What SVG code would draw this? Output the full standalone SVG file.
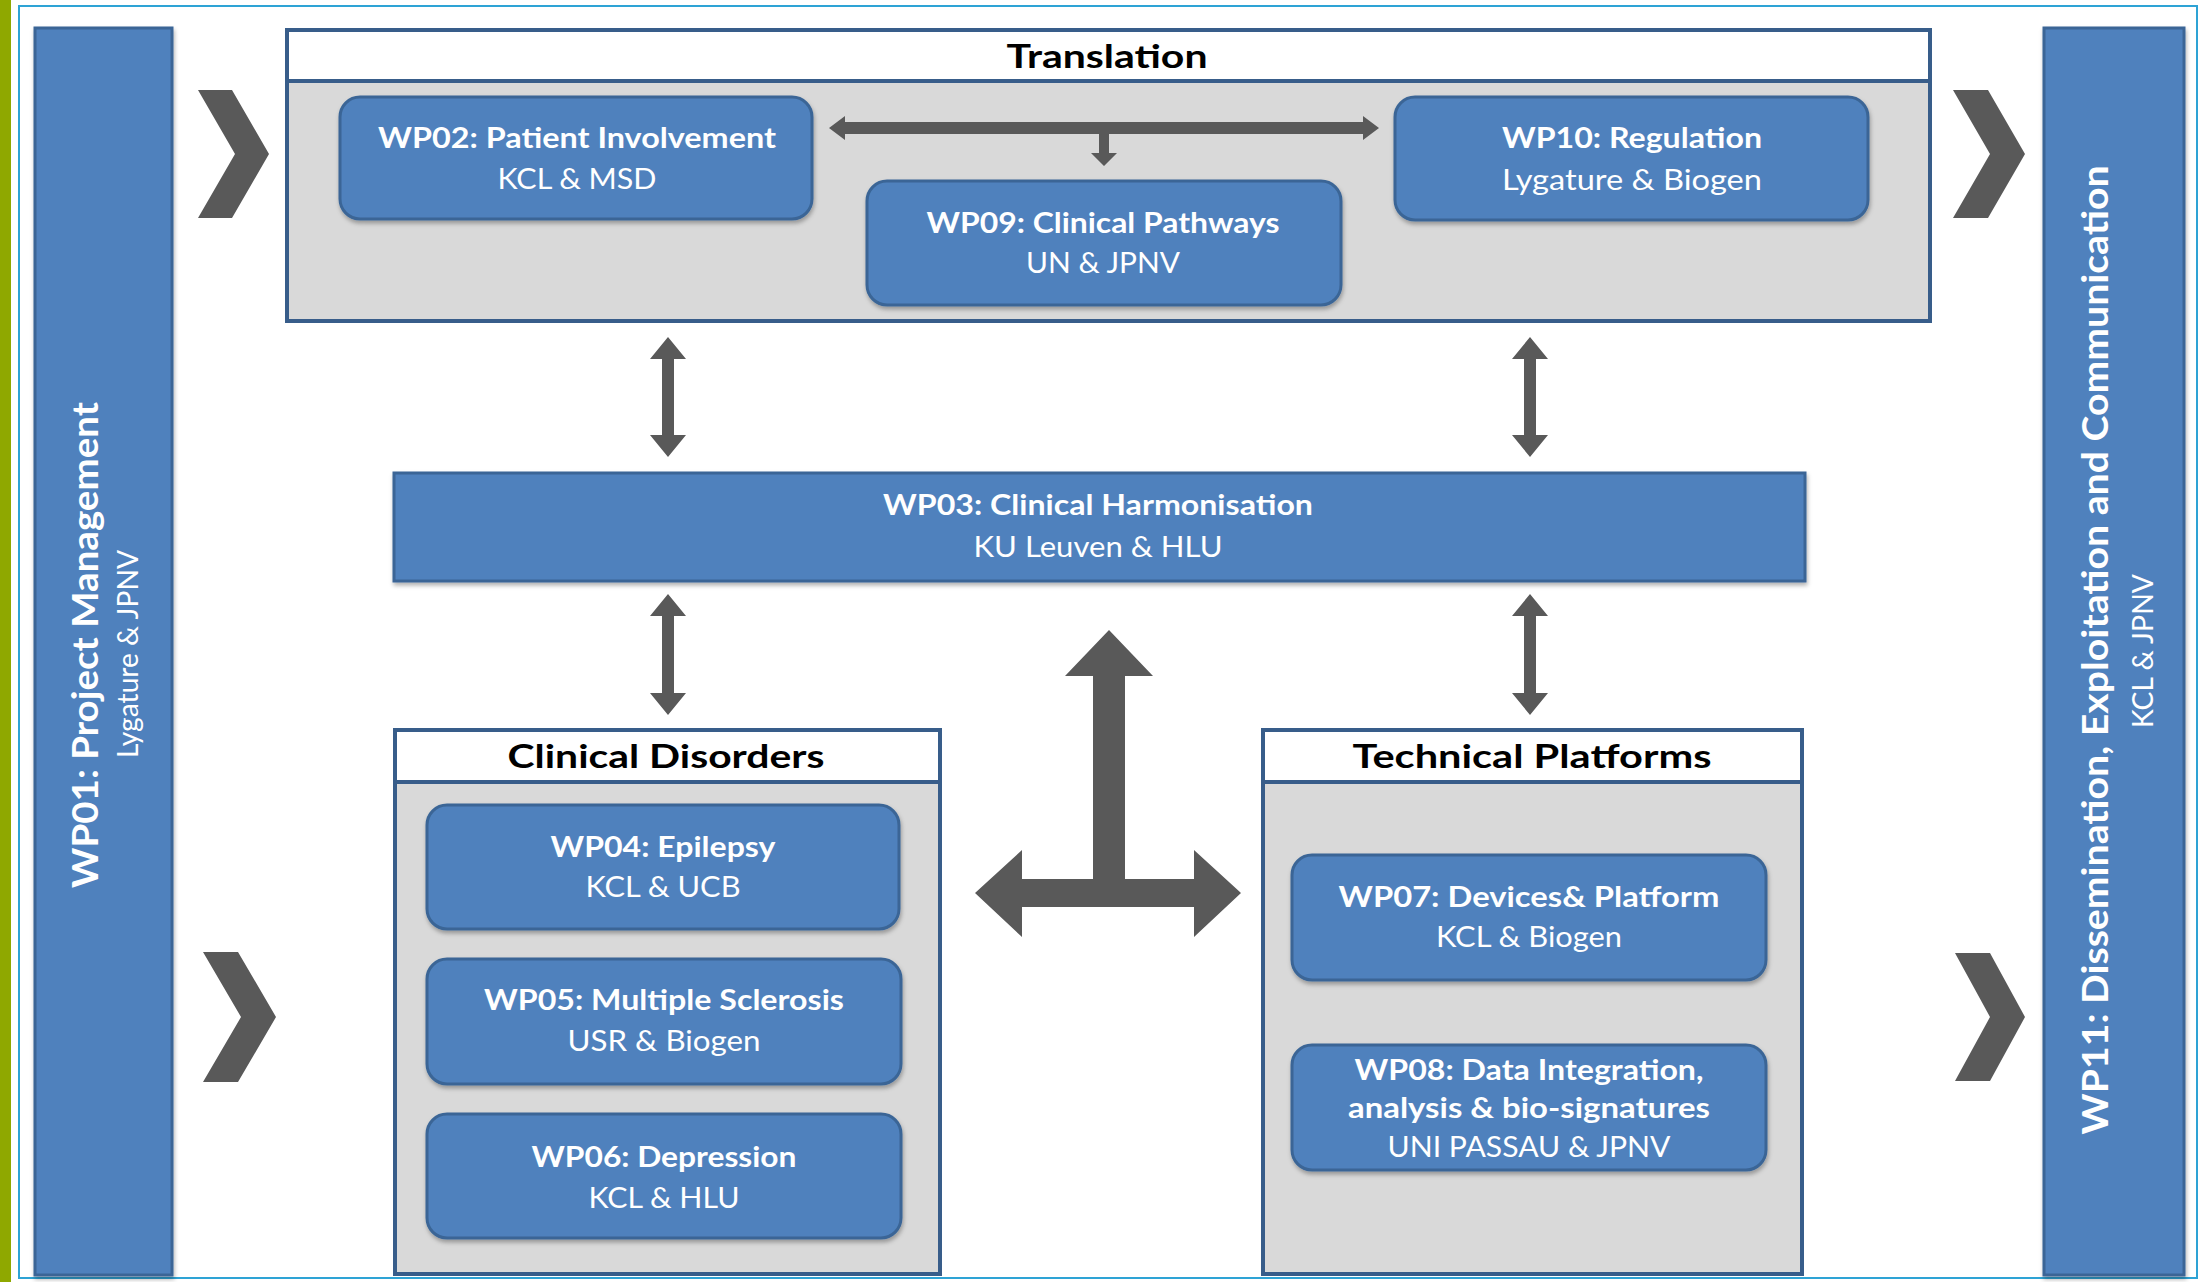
<svg xmlns="http://www.w3.org/2000/svg" width="2206" height="1282" viewBox="0 0 2206 1282">
<style>
.wp{fill:#4f81bd;stroke:#3a6596;stroke-width:3}
.bar{fill:#4f81bd;stroke:#3a6596;stroke-width:3}
.grp{fill:#d9d9d9;stroke:#385d8a;stroke-width:4}
.hdr{fill:#ffffff;stroke:#385d8a;stroke-width:4}
.t1{font-family:Lato,"Liberation Sans",sans-serif;font-weight:700;font-size:28px;fill:#ffffff;text-anchor:middle}
.t2{font-family:Lato,"Liberation Sans",sans-serif;font-weight:400;font-size:28px;fill:#ffffff;text-anchor:middle}
.h{font-family:Lato,"Liberation Sans",sans-serif;font-weight:700;font-size:33px;fill:#000000;text-anchor:middle}
.v1{font-family:Lato,"Liberation Sans",sans-serif;font-weight:700;font-size:37px;fill:#ffffff;text-anchor:middle}
.v2{font-family:Lato,"Liberation Sans",sans-serif;font-weight:400;font-size:29px;fill:#ffffff;text-anchor:middle}
.arr{fill:#595959}
</style>
<defs>
<filter id="sh" x="-5%" y="-5%" width="110%" height="120%">
<feDropShadow dx="1" dy="3" stdDeviation="2" flood-color="#000" flood-opacity="0.3"/>
</filter>
</defs>
<rect x="0" y="0" width="2206" height="1282" fill="#ffffff"/>
<rect x="0" y="0" width="11" height="1282" fill="#8fa800"/>
<rect x="19" y="6" width="2178" height="1272" fill="none" stroke="#2ea3d5" stroke-width="2"/>

<g id="chevrons" class="arr">
<polygon points="198,90 232,90 269,154 232,218 198,218 235,154"/>
<polygon points="1953,90 1988,90 2025,154 1988,218 1953,218 1990,154"/>
<polygon points="203,952 238,952 276,1017 238,1082 203,1082 241,1017"/>
<polygon points="1955,953 1990,953 2025,1017 1990,1081 1955,1081 1990,1017"/>
</g>

<g id="wp01">
<rect class="bar" x="35" y="28" width="137" height="1247" filter="url(#sh)"/>
<text class="v1" transform="translate(98,645) rotate(-90)" textLength="486" lengthAdjust="spacingAndGlyphs">WP01: Project Management</text>
<text class="v2" transform="translate(138,654) rotate(-90)" textLength="208" lengthAdjust="spacingAndGlyphs">Lygature &amp; JPNV</text>
</g>

<g id="wp11">
<rect class="bar" x="2044" y="28" width="140" height="1247" filter="url(#sh)"/>
<text class="v1" transform="translate(2108,650) rotate(-90)" textLength="969" lengthAdjust="spacingAndGlyphs">WP11: Dissemination, Exploitation and Communication</text>
<text class="v2" transform="translate(2153,651) rotate(-90)" textLength="154" lengthAdjust="spacingAndGlyphs">KCL &amp; JPNV</text>
</g>

<g id="translation">
<rect class="grp" x="287" y="30" width="1643" height="291"/>
<rect class="hdr" x="287" y="30" width="1643" height="51"/>
<text class="h" x="1107" y="68" textLength="201" lengthAdjust="spacingAndGlyphs">Translation</text>
</g>

<g id="wp02">
<rect class="wp" x="340" y="97" width="472" height="122" rx="20" filter="url(#sh)"/>
<text class="t1" x="577" y="148" textLength="398" lengthAdjust="spacingAndGlyphs">WP02: Patient Involvement</text>
<text class="t2" x="577" y="189" textLength="159" lengthAdjust="spacingAndGlyphs">KCL &amp; MSD</text>
</g>

<g id="wp09">
<rect class="wp" x="867" y="181" width="474" height="124" rx="20" filter="url(#sh)"/>
<text class="t1" x="1103" y="233" textLength="353" lengthAdjust="spacingAndGlyphs">WP09: Clinical Pathways</text>
<text class="t2" x="1103" y="273" textLength="154" lengthAdjust="spacingAndGlyphs">UN &amp; JPNV</text>
</g>

<g id="wp10">
<rect class="wp" x="1395" y="97" width="473" height="123" rx="20" filter="url(#sh)"/>
<text class="t1" x="1632" y="148" textLength="260" lengthAdjust="spacingAndGlyphs">WP10: Regulation</text>
<text class="t2" x="1632" y="190" textLength="260" lengthAdjust="spacingAndGlyphs">Lygature &amp; Biogen</text>
</g>

<g id="wp03">
<rect class="bar" x="394" y="473" width="1411" height="108" filter="url(#sh)"/>
<text class="t1" x="1098" y="515" textLength="430" lengthAdjust="spacingAndGlyphs">WP03: Clinical Harmonisation</text>
<text class="t2" x="1098" y="557" textLength="249" lengthAdjust="spacingAndGlyphs">KU Leuven &amp; HLU</text>
</g>

<g id="clinical-disorders">
<rect class="grp" x="395" y="730" width="545" height="544"/>
<rect class="hdr" x="395" y="730" width="545" height="52"/>
<text class="h" x="666" y="768" textLength="317" lengthAdjust="spacingAndGlyphs">Clinical Disorders</text>
</g>

<g id="technical-platforms">
<rect class="grp" x="1263" y="730" width="539" height="544"/>
<rect class="hdr" x="1263" y="730" width="539" height="52"/>
<text class="h" x="1532" y="768" textLength="359" lengthAdjust="spacingAndGlyphs">Technical Platforms</text>
</g>

<g id="wp04">
<rect class="wp" x="427" y="805" width="472" height="124" rx="20" filter="url(#sh)"/>
<text class="t1" x="663" y="857" textLength="225" lengthAdjust="spacingAndGlyphs">WP04: Epilepsy</text>
<text class="t2" x="663" y="897" textLength="155" lengthAdjust="spacingAndGlyphs">KCL &amp; UCB</text>
</g>

<g id="wp05">
<rect class="wp" x="427" y="959" width="474" height="125" rx="20" filter="url(#sh)"/>
<text class="t1" x="664" y="1010" textLength="360" lengthAdjust="spacingAndGlyphs">WP05: Multiple Sclerosis</text>
<text class="t2" x="664" y="1051" textLength="193" lengthAdjust="spacingAndGlyphs">USR &amp; Biogen</text>
</g>

<g id="wp06">
<rect class="wp" x="427" y="1114" width="474" height="124" rx="20" filter="url(#sh)"/>
<text class="t1" x="664" y="1167" textLength="265" lengthAdjust="spacingAndGlyphs">WP06: Depression</text>
<text class="t2" x="664" y="1208" textLength="151" lengthAdjust="spacingAndGlyphs">KCL &amp; HLU</text>
</g>

<g id="wp07">
<rect class="wp" x="1292" y="855" width="474" height="125" rx="20" filter="url(#sh)"/>
<text class="t1" x="1529" y="907" textLength="381" lengthAdjust="spacingAndGlyphs">WP07: Devices&amp; Platform</text>
<text class="t2" x="1529" y="947" textLength="186" lengthAdjust="spacingAndGlyphs">KCL &amp; Biogen</text>
</g>

<g id="wp08">
<rect class="wp" x="1292" y="1045" width="474" height="125" rx="20" filter="url(#sh)"/>
<text class="t1" x="1529" y="1080" textLength="349" lengthAdjust="spacingAndGlyphs">WP08: Data Integration,</text>
<text class="t1" x="1529" y="1118" textLength="362" lengthAdjust="spacingAndGlyphs">analysis &amp; bio-signatures</text>
<text class="t2" x="1529" y="1157" textLength="283" lengthAdjust="spacingAndGlyphs">UNI PASSAU &amp; JPNV</text>
</g>

<g id="connectors" class="arr">
<polygon points="829,128 845,116 845,122 1363,122 1363,116 1379,128 1363,140 1363,134 1109,134 1109,153 1117,153 1104,166 1091,153 1099,153 1099,134 845,134 845,140"/>
<polygon points="668,337 686,359 674,359 674,435 686,435 668,457 650,435 662,435 662,359 650,359"/>
<polygon points="1530,337 1548,359 1536,359 1536,435 1548,435 1530,457 1512,435 1524,435 1524,359 1512,359"/>
<polygon points="668,594 686,616 674,616 674,693 686,693 668,715 650,693 662,693 662,616 650,616"/>
<polygon points="1530,594 1548,616 1536,616 1536,693 1548,693 1530,715 1512,693 1524,693 1524,616 1512,616"/>
<polygon points="1109,630 1153,676 1125,676 1125,879 1194,879 1194,850 1241,893 1194,937 1194,907 1022,907 1022,937 975,893 1022,850 1022,879 1093,879 1093,676 1065,676"/>
</g>
</svg>
